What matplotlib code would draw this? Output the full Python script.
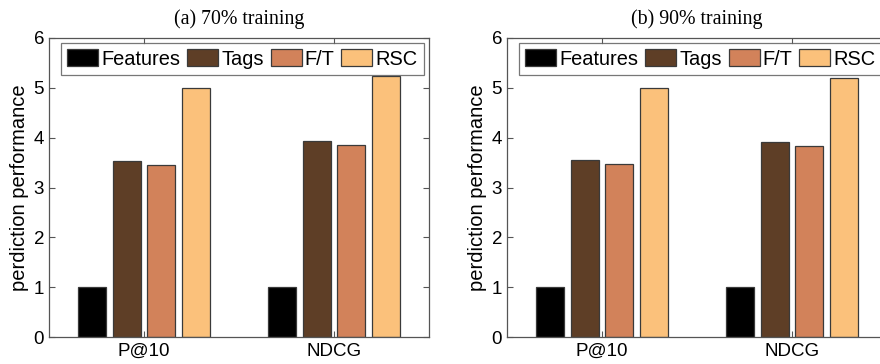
import numpy as np
import matplotlib.pyplot as plt

# categories and series
metrics = ['P@10', 'NDCG']
methods = ['Features', 'Tags', 'F/T', 'RSC']
colors = ['#000000', '#5e3e26', '#d2825a', '#fbc17b']

# values
train70 = {
    'Features': [1.0, 1.0],
    'Tags': [3.54, 3.93],
    'F/T': [3.46, 3.85],
    'RSC': [4.99, 5.23],
}
train90 = {
    'Features': [1.0, 1.0],
    'Tags': [3.55, 3.91],
    'F/T': [3.48, 3.83],
    'RSC': [5.0, 5.19],
}
titles = ['(a) 70% training', '(b) 90% training']

plt.rcParams['font.family'] = ['Liberation Sans', 'DejaVu Sans']

fig = plt.figure(figsize=(8.8, 3.64), dpi=100)
W, H = 880, 364
# axes boxes in pixels: left, top, width, height
boxes = [(49, 38, 380, 299), (507, 38, 380, 299)]


def draw_panel(ax, data, title):
    x = np.arange(1, len(metrics) + 1)
    step = 0.1816
    width = 0.147
    for i, m in enumerate(methods):
        off = (i - 1.5) * step
        ax.bar(x + off, data[m], width, color=colors[i], edgecolor='#3a3a3a',
               linewidth=0.9, label=m, zorder=2)
    ax.set_xlim(0.5, 2.5)
    ax.set_ylim(0, 6)
    ax.set_xticks(x)
    ax.set_xticklabels(metrics, fontsize=13.5)
    ax.set_yticks(range(7))
    ax.tick_params(axis='y', labelsize=13.5, pad=3.5)
    ax.tick_params(direction='in', top=True, right=True, length=4,
                   color='#555555', width=0.8)
    ax.tick_params(axis='x', pad=4)
    for s in ax.spines.values():
        s.set_color('#555555')
        s.set_linewidth(0.9)
    ax.set_ylabel('perdiction performance', fontsize=14.5, labelpad=3)
    ax.set_title(title, fontsize=14.3, family=['Liberation Serif', 'DejaVu Serif'], pad=10)
    leg = ax.legend(ncol=4, loc='upper left', bbox_to_anchor=(0.0316, 0.983),
                    fontsize=14.4, frameon=True, fancybox=False,
                    handlelength=1.55, handleheight=0.95, handletextpad=0.15,
                    columnspacing=0.35, borderpad=0.3, borderaxespad=0.0)
    leg.get_frame().set_edgecolor('#555555')
    leg.get_frame().set_linewidth(0.9)
    for p in leg.get_patches():
        p.set_edgecolor('#3a3a3a')


for (l, t, w, h), data, title in zip(boxes, [train70, train90], titles):
    ax = fig.add_axes([l / W, 1 - (t + h) / H, w / W, h / H])
    draw_panel(ax, data, title)

fig.savefig('out.png', dpi=100)
